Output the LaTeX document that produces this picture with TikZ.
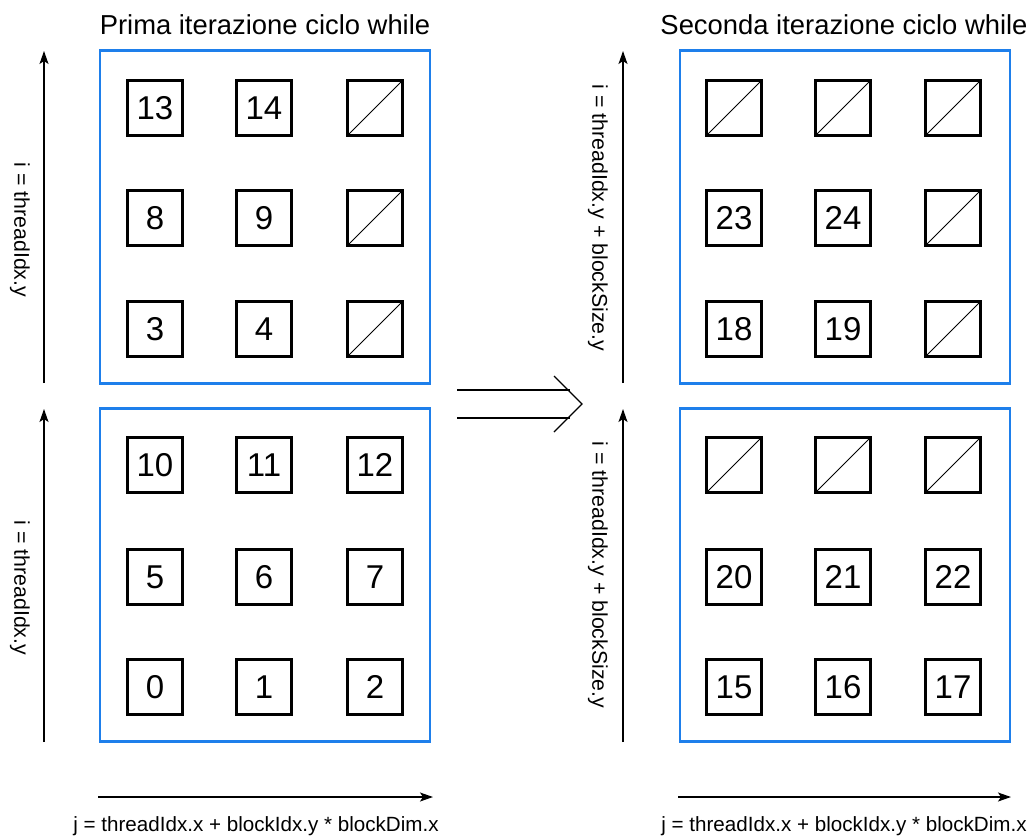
\documentclass[tikz,border=0pt]{standalone}
\usepackage{fontspec}
\setmainfont{Liberation Sans}
\usetikzlibrary{arrows.meta}
\definecolor{frameblue}{RGB}{30,127,235}
\tikzset{
  frame/.style={draw=frameblue, line width=2.6pt, minimum width=330pt, minimum height=333pt, inner sep=0pt},
  cell/.style={draw=black, line width=2.2pt, minimum size=55pt, inner sep=0pt, font=\fontsize{33}{38}\selectfont},
  empty/.style={cell, path picture={\draw[line width=1pt] (path picture bounding box.south west) -- (path picture bounding box.north east);}},
  axis/.style={line width=1.3pt, -{Stealth[length=13pt,width=9pt,inset=3pt]}},
  title/.style={font=\fontsize{27.4}{32}\selectfont, inner sep=0pt},
  lbl/.style={font=\fontsize{21.3}{26}\selectfont, inner sep=0pt},
  hlbl/.style={font=\fontsize{20.6}{25}\selectfont, inner sep=0pt},
  implies/.style={line width=1.3pt}
}
\begin{document}
\begin{tikzpicture}[x=1pt,y=-1pt]
\useasboundingbox (0,0) rectangle (1031,836);
% frames
\node[frame] (f1) at (265,217) {};
\node[frame] (f2) at (265,575) {};
\node[frame] (f3) at (845,217) {};
\node[frame] (f4) at (845,575) {};
% titles
\node[title] (t1) at (265,25) {Prima iterazione ciclo while};
\node[title] (t2) at (844,25) {Seconda iterazione ciclo while};
% left top cells
\node[cell] (a13) at (155,108) {13};
\node[cell] (a14) at (264,108) {14};
\node[empty] (ae1) at (375,108) {};
\node[cell] (a8) at (155,218) {8};
\node[cell] (a9) at (264,218) {9};
\node[empty] (ae2) at (375,218) {};
\node[cell] (a3) at (155,329) {3};
\node[cell] (a4) at (264,329) {4};
\node[empty] (ae3) at (375,329) {};
% left bottom cells
\node[cell] (b10) at (155,465) {10};
\node[cell] (b11) at (264,465) {11};
\node[cell] (b12) at (375,465) {12};
\node[cell] (b5) at (155,577) {5};
\node[cell] (b6) at (264,577) {6};
\node[cell] (b7) at (375,577) {7};
\node[cell] (b0) at (155,687) {0};
\node[cell] (b1) at (264,687) {1};
\node[cell] (b2) at (375,687) {2};
% right top cells
\node[empty] (ce1) at (734,108) {};
\node[empty] (ce2) at (843,108) {};
\node[empty] (ce3) at (953,108) {};
\node[cell] (c23) at (734,218) {23};
\node[cell] (c24) at (843,218) {24};
\node[empty] (ce4) at (953,218) {};
\node[cell] (c18) at (734,329) {18};
\node[cell] (c19) at (843,329) {19};
\node[empty] (ce5) at (953,329) {};
% right bottom cells
\node[empty] (de1) at (734,465) {};
\node[empty] (de2) at (843,465) {};
\node[empty] (de3) at (953,465) {};
\node[cell] (d20) at (734,577) {20};
\node[cell] (d21) at (843,577) {21};
\node[cell] (d22) at (953,577) {22};
\node[cell] (d15) at (734,687) {15};
\node[cell] (d16) at (843,687) {16};
\node[cell] (d17) at (953,687) {17};
% axis coordinates
\coordinate (la1s) at (44,383); \coordinate (la1e) at (44,51);
\coordinate (la2s) at (44,742); \coordinate (la2e) at (44,409);
\coordinate (ra1s) at (623,383); \coordinate (ra1e) at (623,51);
\coordinate (ra2s) at (623,742); \coordinate (ra2e) at (623,409);
\coordinate (ha1s) at (98,797); \coordinate (ha1e) at (433,797);
\coordinate (ha2s) at (678,797); \coordinate (ha2e) at (1011,797);
\draw[axis] (la1s) -- (la1e);
\draw[axis] (la2s) -- (la2e);
\draw[axis] (ra1s) -- (ra1e);
\draw[axis] (ra2s) -- (ra2e);
\draw[axis] (ha1s) -- (ha1e);
\draw[axis] (ha2s) -- (ha2e);
% axis labels
\node[lbl, rotate=-90] (l1) at (20,230) {i = threadIdx.y};
\node[lbl, rotate=-90] (l2) at (20,588) {i = threadIdx.y};
\node[lbl, rotate=-90] (l3) at (598,218) {i = threadIdx.y + blockSize.y};
\node[lbl, rotate=-90] (l4) at (598,575) {i = threadIdx.y + blockSize.y};
\node[hlbl] (h1) at (256,826) {j = threadIdx.x + blockIdx.y * blockDim.x};
\node[hlbl] (h2) at (844,826) {j = threadIdx.x + blockIdx.y * blockDim.x};
% implies arrow
\coordinate (m1s) at (457,390); \coordinate (m1e) at (570,390);
\coordinate (m2s) at (457,418); \coordinate (m2e) at (570,418);
\coordinate (mc1) at (554,376); \coordinate (mc2) at (582,404); \coordinate (mc3) at (554,432);
\draw[implies] (m1s) -- (m1e);
\draw[implies] (m2s) -- (m2e);
\draw[implies] (mc1) -- (mc2) -- (mc3);
\end{tikzpicture}
\end{document}
